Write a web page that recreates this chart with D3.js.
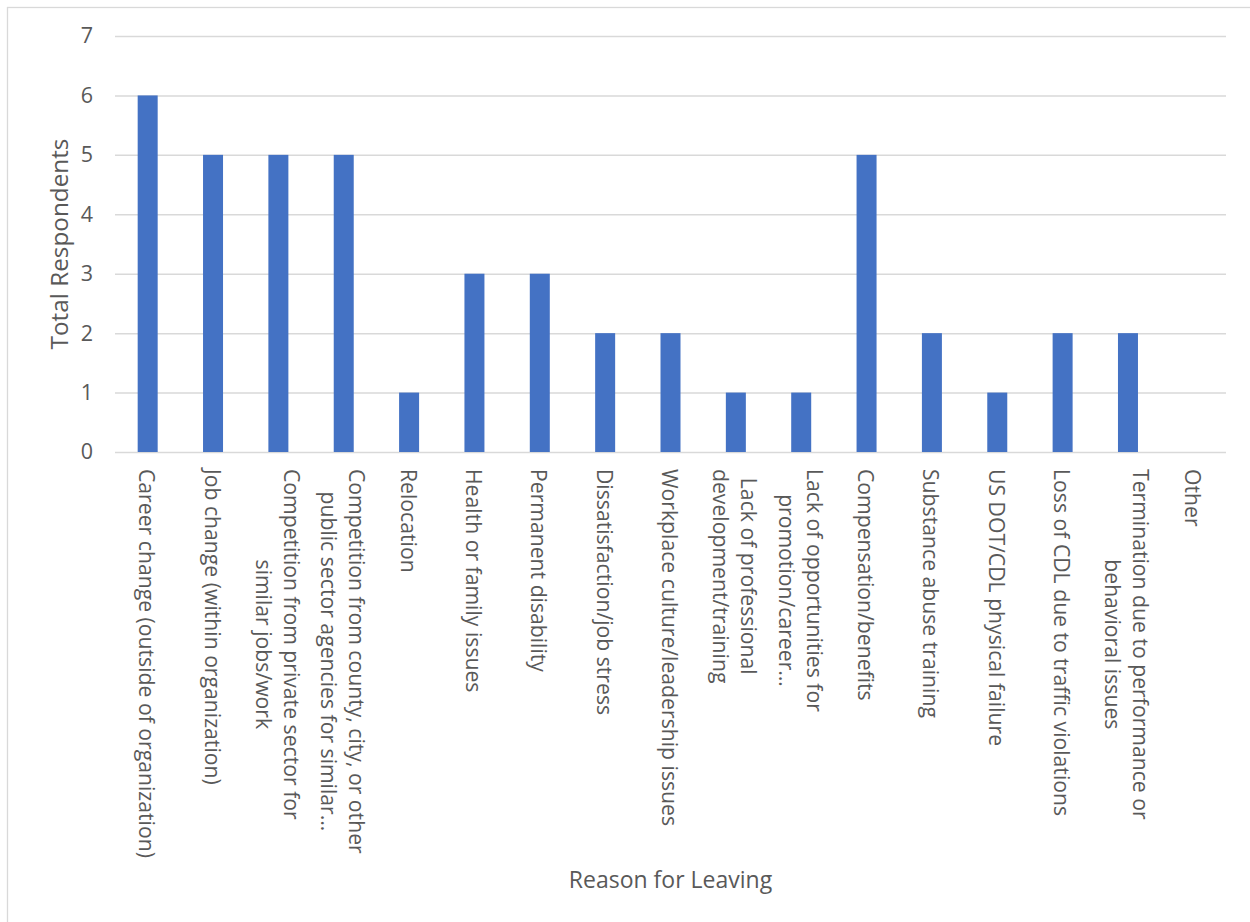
<!DOCTYPE html>
<html>
<head>
<meta charset="utf-8">
<script src="https://cdn.jsdelivr.net/npm/d3@7"></script>
<style>
  html, body { margin: 0; padding: 0; background: #fff; }
  svg { display: block; }
  text { font-family: "Open Sans", "Noto Sans", sans-serif; fill: #595959; }
</style>
</head>
<body>
<svg id="chart" width="1250" height="922"></svg>
<script>
// Reasons given for leaving (line breaks mark wrapped axis labels)
const categories = [
  "Career change (outside of organization)",
  "Job change (within organization)",
  "Competition from private sector for\nsimilar jobs/work",
  "Competition from county, city, or other\npublic sector agencies for similar…",
  "Relocation",
  "Health or family issues",
  "Permanent disability",
  "Dissatisfaction/job stress",
  "Workplace culture/leadership issues",
  "Lack of professional\ndevelopment/training",
  "Lack of opportunities for\npromotion/career…",
  "Compensation/benefits",
  "Substance abuse training",
  "US DOT/CDL physical failure",
  "Loss of CDL due to traffic violations",
  "Termination due to performance or\nbehavioral issues",
  "Other"
];
const values = [6, 5, 5, 5, 1, 3, 3, 2, 2, 1, 1, 5, 2, 1, 2, 2, 0];
const yTicks = [0, 1, 2, 3, 4, 5, 6, 7];
const yTitle = "Total Respondents";
const xTitle = "Reason for Leaving";

const svg = d3.select("#chart");
const margin = { left: 115, right: 24, top: 36, bottom: 470 };
const W = 1250, H = 922;
const plotL = margin.left, plotR = W - margin.right;
const plotT = margin.top, plotB = H - margin.bottom;

// Outer chart frame
svg.append("rect")
  .attr("x", 7.5).attr("y", 7.5)
  .attr("width", W + 10).attr("height", H + 10)
  .attr("fill", "#fff").attr("stroke", "#d9d9d9").attr("stroke-width", 1.3);

const x = d3.scaleBand().domain(categories).range([plotL, plotR]).paddingInner(0).paddingOuter(0);
const y = d3.scaleLinear().domain([0, 7]).range([plotB, plotT]);

// Horizontal gridlines and value labels
const yAxis = svg.append("g")
  .attr("transform", `translate(${plotL},0)`)
  .call(d3.axisLeft(y).tickValues(yTicks).tickSize(-(plotR - plotL)).tickPadding(22).tickFormat(d3.format("d")));
yAxis.select(".domain").remove();
yAxis.selectAll(".tick line").attr("stroke", "#d9d9d9").attr("stroke-width", 1.5);
yAxis.selectAll(".tick text")
  .attr("font-size", 21.5)
  .style("font-family", '"Open Sans", sans-serif')
  .attr("fill", "#595959");

// Bars
const barW = 20;
svg.append("g").selectAll("rect")
  .data(values)
  .join("rect")
  .attr("x", (d, i) => x(categories[i]) + x.bandwidth() / 2 - barW / 2)
  .attr("width", barW)
  .attr("y", d => y(d))
  .attr("height", d => y(0) - y(d))
  .attr("fill", "#4472c4");

// Category labels, rotated to read top to bottom
const lineGap = 28;
const labelTop = plotB + 17;
const labels = svg.append("g");
categories.forEach((c, i) => {
  const lines = c.split("\n");
  const cx = x(c) + x.bandwidth() / 2;
  const g = labels.append("g").attr("transform", `translate(${cx},${labelTop}) rotate(90)`);
  const texts = lines.map((ln, k) =>
    g.append("text")
      .attr("font-size", 21.2)
      .attr("dominant-baseline", "central")
      .attr("y", (k - (lines.length - 1) / 2) * lineGap)
      .attr("text-anchor", "middle")
      .text(ln)
  );
  const widths = texts.map(t => t.node().getComputedTextLength());
  const maxW = d3.max(widths);
  texts.forEach(t => t.attr("x", maxW / 2));
});

// Axis titles
svg.append("text")
  .attr("transform", `translate(58,${(plotT + plotB) / 2}) rotate(-90)`)
  .attr("text-anchor", "middle")
  .attr("dominant-baseline", "central")
  .attr("font-size", 24.3)
  .text(yTitle);

svg.append("text")
  .attr("x", (plotL + plotR) / 2)
  .attr("y", 888)
  .attr("text-anchor", "middle")
  .attr("font-size", 23)
  .text(xTitle);
</script>
</body>
</html>
